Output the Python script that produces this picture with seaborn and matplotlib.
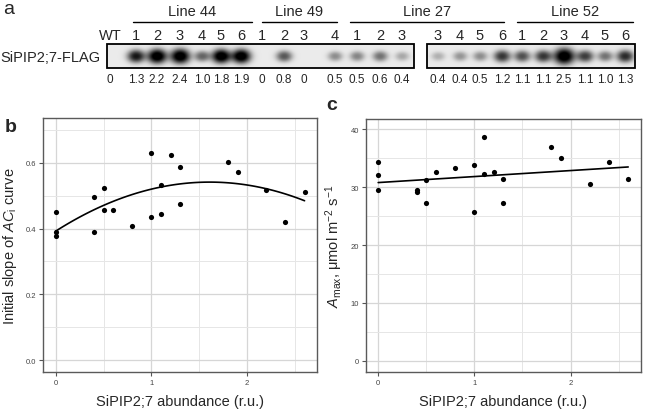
import numpy as np
import pandas as pd
import seaborn as sns
import matplotlib.pyplot as plt
from matplotlib.ticker import MultipleLocator

# ---- data ----
abundance = [0, 0, 0, 0.4, 0.4, 0.5, 0.5, 0.6, 0.8, 1.0, 1.0,
             1.1, 1.1, 1.2, 1.3, 1.3, 1.8, 1.9, 2.2, 2.4, 2.6]
init_slope = [0.388, 0.376, 0.450, 0.496, 0.390, 0.524, 0.455, 0.457, 0.408, 0.630, 0.435,
              0.532, 0.444, 0.623, 0.587, 0.475, 0.601, 0.571, 0.518, 0.419, 0.512]
abundance_c = [0, 0, 0, 0.4, 0.4, 0.5, 0.5, 0.6, 0.8, 1.0, 1.0,
               1.1, 1.1, 1.2, 1.3, 1.3, 1.8, 1.9, 2.2, 2.4, 2.6]
amax = [34.3, 32.2, 29.5, 29.5, 29.1, 31.2, 27.3, 32.7, 33.4, 33.9, 25.8,
        38.7, 32.3, 32.7, 31.5, 27.2, 37.0, 35.1, 30.6, 34.4, 31.5]

# western blot lanes (band = darkness read from the blot)
lanes1 = ['WT', '1', '2', '3', '4', '5', '6', '1', '2', '3', '4', '1', '2', '3']
quant1 = ['0', '1.3', '2.2', '2.4', '1.0', '1.8', '1.9', '0', '0.8', '0', '0.5', '0.5', '0.6', '0.4']
band1 = [0, 0.8, 1.05, 1.1, 0.5, 1.0, 1.0, 0, 0.55, 0, 0.35, 0.38, 0.45, 0.25]
lanes2 = ['3', '4', '5', '6', '1', '2', '3', '4', '5', '6']
quant2 = ['0.4', '0.4', '0.5', '1.2', '1.1', '1.1', '2.5', '1.1', '1.0', '1.3']
band2 = [0.22, 0.32, 0.35, 0.68, 0.58, 0.68, 1.3, 0.65, 0.45, 0.72]
line_names = ['Line 44', 'Line 49', 'Line 27', 'Line 52']

# layout (pixels)
W, H = 645, 410
lane_x1 = [110, 136, 157, 180, 202, 221, 241, 262, 284, 304, 335, 357, 380, 402]
lane_x2 = [438, 460, 480, 502, 522, 543, 564, 585, 605, 625]
line_spans = [(133, 252), (262, 337), (350, 504), (517, 633)]

sns.set_theme(style='whitegrid')
plt.rcParams['font.family'] = ['Liberation Sans', 'DejaVu Sans']
plt.rcParams['mathtext.fontset'] = 'custom'
plt.rcParams['mathtext.rm'] = 'Liberation Sans'
plt.rcParams['mathtext.it'] = 'Liberation Sans:italic'

fig = plt.figure(figsize=(W / 100, H / 100), dpi=100)


def px_axes(x0, y0, x1, y1):
    return fig.add_axes([x0 / W, 1 - y1 / H, (x1 - x0) / W, (y1 - y0) / H])


# ---- panel a: blot ----
top = px_axes(0, 0, W, 100)
top.set_xlim(0, W)
top.set_ylim(100, 0)
top.axis('off')


def blot_image(x0, x1, lane_x, bands):
    xs = np.arange(x0, x1, 0.5)
    ys = np.arange(45, 69, 0.5)
    X, Y = np.meshgrid(xs, ys)
    img = np.full_like(X, 0.08)
    for lx, b in zip(lane_x, bands):
        ax_ = 6.0 + 3.5 * b
        ay_ = 3.5 + 3.6 * b
        r2 = ((X - lx) / ax_) ** 2 + ((Y - 57) / ay_) ** 2
        img += min(b, 1.0) * 1.05 * np.exp(-r2 ** 1.25)
    img = np.clip(img, 0, 1)
    top.imshow(img, cmap='gray_r', vmin=0, vmax=1, extent=(x0, x1, 69, 45),
               aspect='auto', interpolation='bilinear', zorder=1)
    top.add_patch(plt.Rectangle((x0, 45), x1 - x0, 24, fill=False, lw=1.3,
                                ec='black', zorder=2))


blot_image(107, 414, lane_x1, band1)
blot_image(427, 635, lane_x2, band2)

for x, lab, q in zip(lane_x1 + lane_x2, lanes1 + lanes2, quant1 + quant2):
    top.text(x, 36, lab, ha='center', va='center', fontsize=10.5)
    top.text(x, 80, q, ha='center', va='center', fontsize=8.5)

for name, (a, b) in zip(line_names, line_spans):
    top.plot([a, b], [23, 23], color='black', lw=1)
    top.text((a + b) / 2, 12, name, ha='center', va='center', fontsize=10.5)

top.text(50, 58, 'SiPIP2;7-FLAG', ha='center', va='center', fontsize=10.5)
top.text(3, 10, 'a', ha='left', va='center', fontsize=14)
fig.text(5 / W, 1 - 127 / H, 'b', ha='left', va='center', fontsize=14, fontweight='bold')
fig.text(326 / W, 1 - 106 / H, 'c', ha='left', va='center', fontsize=14, fontweight='bold')


def style(ax):
    ax.set_facecolor('white')
    ax.grid(which='major', color='#d6d6d6', lw=0.9)
    ax.grid(which='minor', color='#e6e6e6', lw=0.7)
    for s in ax.spines.values():
        s.set_color('#5a5a5a')
        s.set_linewidth(1.0)
    ax.tick_params(which='major', length=3, width=0.8, color='#555555',
                   labelsize=5.5, labelcolor='#444444', pad=2, bottom=True, left=True)
    ax.tick_params(which='minor', length=0)
    ax.xaxis.set_major_locator(MultipleLocator(1))
    ax.xaxis.set_minor_locator(MultipleLocator(0.5))
    ax.set_xlim(-0.13, 2.73)
    ax.set_xlabel('SiPIP2;7 abundance (r.u.)', fontsize=10.5, labelpad=6)


# ---- panel b ----
axb = px_axes(43.3, 119, 317, 373)
df_b = pd.DataFrame({'x': abundance, 'y': init_slope})
sns.regplot(data=df_b, x='x', y='y', order=2, ci=None, ax=axb,
            scatter_kws=dict(s=14, color='black', alpha=1, linewidths=0, zorder=3),
            line_kws=dict(color='black', lw=1.2))
style(axb)
axb.yaxis.set_minor_locator(MultipleLocator(0.1))
axb.set_yticks([0, 0.2, 0.4, 0.6])
axb.set_yticklabels(['0.0', '0.2', '0.4', '0.6'])
axb.set_ylim(-0.035, 0.735)
axb.set_ylabel(r'Initial slope of $AC_{\rm i}$ curve', fontsize=10.5, labelpad=5)

# ---- panel c ----
axc = px_axes(365.7, 120, 640.7, 373)
df_c = pd.DataFrame({'x': abundance_c, 'y': amax})
sns.regplot(data=df_c, x='x', y='y', ci=None, ax=axc,
            scatter_kws=dict(s=14, color='black', alpha=1, linewidths=0, zorder=3),
            line_kws=dict(color='black', lw=1.2))
style(axc)
axc.yaxis.set_major_locator(MultipleLocator(10))
axc.yaxis.set_minor_locator(MultipleLocator(5))
axc.set_ylim(-1.95, 41.8)
axc.set_ylabel(r'$A_{\rm max}$, μmol m$^{-2}$ s$^{-1}$', fontsize=10.5, labelpad=4)

fig.savefig('out.png', dpi=100)
